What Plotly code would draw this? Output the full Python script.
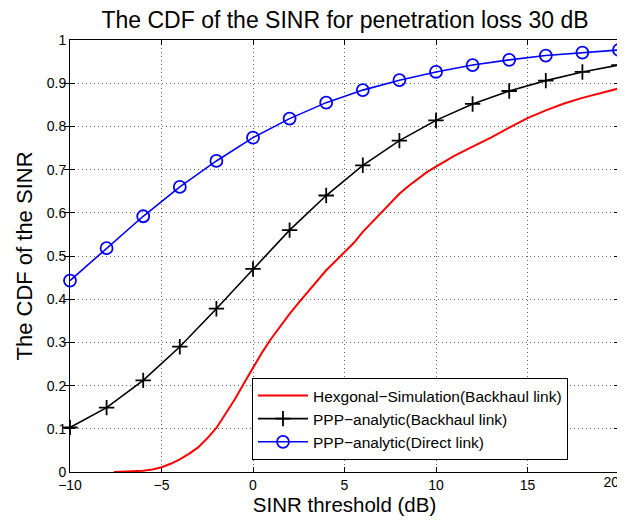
import plotly.graph_objects as go

# PPP analytic curves (step of 2 dB)
x_ppp = [-10, -8, -6, -4, -2, 0, 2, 4, 6, 8, 10, 12, 14, 16, 18, 20]
cdf_direct = [0.443, 0.518, 0.592, 0.660, 0.720, 0.774, 0.818, 0.855, 0.884, 0.907,
              0.926, 0.942, 0.954, 0.964, 0.971, 0.977]
cdf_backhaul = [0.103, 0.149, 0.212, 0.290, 0.378, 0.470, 0.560, 0.640, 0.710, 0.767,
                0.814, 0.852, 0.882, 0.906, 0.926, 0.942]

# Hexagonal simulation (empirical CDF)
x_sim = [-7.6, -7, -6.5, -6, -5.5, -5, -4.5, -4, -3.5, -3, -2.5, -2, -1.5, -1, -0.5,
         0, 0.5, 1, 1.5, 2, 2.5, 3, 3.5, 4, 4.5, 5, 5.5, 6, 6.5, 7, 7.5, 8, 8.5, 9,
         9.5, 10, 11, 12, 13, 14, 15, 16, 17, 18, 19, 20, 20]
cdf_sim = [0.0, 0.001, 0.002, 0.003, 0.006, 0.011, 0.019, 0.029, 0.042, 0.057, 0.078,
           0.102, 0.135, 0.168, 0.205, 0.242, 0.277, 0.309, 0.338, 0.366, 0.392, 0.417,
           0.443, 0.467, 0.488, 0.508, 0.530, 0.556, 0.578, 0.600, 0.622, 0.644, 0.662,
           0.679, 0.694, 0.707, 0.732, 0.753, 0.774, 0.797, 0.819, 0.837, 0.853, 0.866,
           0.877, 0.888, 1.0]

x_ticks = [-10, -5, 0, 5, 10, 15, 20]
x_ticktext = ["\u221210", "\u22125", "0", "5", "10", "15", ""]
x_edge_tick = [20]
x_edge_text = ["20"]
y_ticks = [0, 0.1, 0.2, 0.3, 0.4, 0.5, 0.6, 0.7, 0.8, 0.9, 1]
y_ticktext = ["0", "0.1", "0.2", "0.3", "0.4", "0.5", "0.6", "0.7", "0.8", "0.9", "1"]

FONT = "Liberation Sans, Arial, Helvetica, sans-serif"

fig = go.Figure()
fig.add_trace(go.Scatter(
    x=x_sim, y=cdf_sim, mode="lines", cliponaxis=False,
    name="Hexgonal\u2212Simulation(Backhaul link)",
    line=dict(color="#ff0000", width=2),
))
fig.add_trace(go.Scatter(
    x=x_ppp, y=cdf_backhaul, mode="lines+markers", cliponaxis=False,
    name="PPP\u2212analytic(Backhaul link)",
    line=dict(color="#000000", width=1.6),
    marker=dict(symbol="cross-thin", size=11, color="#000000",
                line=dict(color="#000000", width=1.8)),
))
fig.add_trace(go.Scatter(
    x=x_ppp, y=cdf_direct, mode="lines+markers", cliponaxis=False,
    name="PPP\u2212analytic(Direct link)",
    line=dict(color="#0000ff", width=1.6),
    marker=dict(symbol="circle-open", size=12, color="#0000ff",
                line=dict(color="#0000ff", width=1.8)),
))
# empty helper trace so the overlaid edge-label axis is drawn
fig.add_trace(go.Scatter(x=[], y=[], xaxis="x2", yaxis="y",
                         showlegend=False, hoverinfo="skip"))

axis_common = dict(
    showline=True, linecolor="black", linewidth=1, mirror="allticks",
    ticks="inside", ticklen=5, tickcolor="black", tickwidth=1,
    showgrid=True, gridcolor="rgba(0,0,0,0.6)", griddash="1px,3px", gridwidth=1,
    zeroline=False, tickfont=dict(size=14, color="black", family=FONT),
    layer="below traces",
)

# the page body adds an 8px offset; figure is sized to fit the window
W, H = 617, 513
fig.update_layout(
    width=W, height=H,
    margin=dict(l=62, r=6, t=32, b=49),
    paper_bgcolor="white", plot_bgcolor="white",
    font=dict(family=FONT, color="black"),
    title=dict(text="The CDF of the SINR for penetration loss 30 dB",
               x=337 / W, xanchor="center", y=1 - 12 / H, yanchor="middle",
               font=dict(size=23, color="black", family=FONT)),
    xaxis=dict(range=[-10, 20], tickvals=x_ticks, ticktext=x_ticktext,
               title=dict(text="SINR threshold (dB)", font=dict(size=20.5), standoff=5),
               **axis_common),
    xaxis2=dict(range=[-10, 20], overlaying="x", side="bottom", anchor="y",
                tickvals=x_edge_tick, ticktext=x_edge_text, ticks="",
                ticklabelposition="outside left",
                showgrid=False, showline=False, zeroline=False,
                tickfont=dict(size=14, color="black", family=FONT)),
    yaxis=dict(range=[0, 1], tickvals=y_ticks, ticktext=y_ticktext,
               title=dict(text="The CDF of the SINR", font=dict(size=22), standoff=8),
               **axis_common),
    legend=dict(x=0.3315, y=0.028, xanchor="left", yanchor="bottom",
                bgcolor="white", bordercolor="black", borderwidth=1,
                font=dict(size=15.5, color="black", family=FONT),
                tracegroupgap=0, itemwidth=50, entrywidth=345),
    showlegend=True,
)

fig.write_html("out.html")
